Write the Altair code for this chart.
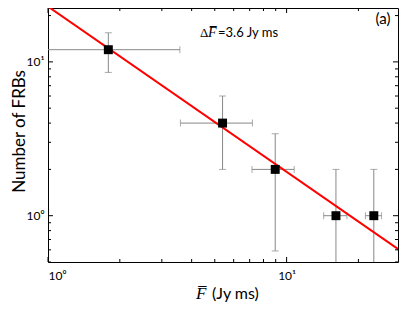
import altair as alt
import pandas as pd

# ---- data ----
flux = [1.79, 5.39, 8.96, 16.1, 23.2]
count = [12, 4, 2, 1, 1]
flux_lo = [0.01, 3.59, 7.16, 14.3, 21.4]
flux_hi = [3.57, 7.19, 10.76, 17.9, 25.0]
count_lo = [8.54, 2.0, 0.59, 0.001, 0.001]
count_hi = [15.46, 6.0, 3.41, 2.0, 2.0]

fit_flux = [1.0, 31.62]
fit_count = [22.9, 0.56]

x_major = [1, 10]
x_minor = [2, 3, 4, 5, 6, 7, 8, 9, 20]
y_major = [1, 10]
y_minor = [0.5, 0.6, 0.7, 0.8, 0.9, 2, 3, 4, 5, 6, 7, 8, 9, 20]

W, H = 350, 254
FONT = "Lato"
GRAY = "#888888"

xs = alt.Scale(type="log", domain=[1, 29.3], nice=False)
ys = alt.Scale(type="log", domain=[0.5, 22.4], nice=False)

lab_expr = "datum.value == 1 ? '10\u2070' : (datum.value == 10 ? '10\u00b9' : '')"

xax = alt.Axis(values=x_major, labelExpr=lab_expr, ticks=False, domain=False,
               grid=False, labelFont=FONT, labelFontSize=12, labelPadding=8,
               labelColor="black", title=None)
yax = alt.Axis(values=y_major, labelExpr=lab_expr, ticks=False, domain=False,
               grid=False, labelFont=FONT, labelFontSize=12, labelPadding=4,
               labelColor="black", title="Number of FRBs", titleFont=FONT,
               titleFontSize=17, titleFontWeight="normal", titleX=-20, titleY=123,
               titleAngle=270, titleBaseline="bottom", titleAlign="center",
               titleColor="black")


def X(f):
    return alt.X(f, scale=xs, axis=xax)


def Y(f):
    return alt.Y(f, scale=ys, axis=yax)


pts = pd.DataFrame({"f": flux, "n": count, "flo": flux_lo, "fhi": flux_hi,
                    "nlo": count_lo, "nhi": count_hi})
fit = pd.DataFrame({"f": fit_flux, "n": fit_count})

base = alt.Chart(pts)

vbar = base.mark_rule(color=GRAY, strokeWidth=1, clip=True).encode(
    x=X("f:Q"), y=Y("nlo:Q"), y2="nhi:Q")
hbar = base.mark_rule(color=GRAY, strokeWidth=1, clip=True).encode(
    x=X("flo:Q"), x2="fhi:Q", y=Y("n:Q"))
cap_top = base.mark_tick(color=GRAY, orient="horizontal", size=7, thickness=1, clip=True).encode(
    x=X("f:Q"), y=Y("nhi:Q"))
cap_bot = base.mark_tick(color=GRAY, orient="horizontal", size=7, thickness=1, clip=True).encode(
    x=X("f:Q"), y=Y("nlo:Q"))
cap_l = base.mark_tick(color=GRAY, orient="vertical", size=7, thickness=1, clip=True).encode(
    x=X("flo:Q"), y=Y("n:Q"))
cap_r = base.mark_tick(color=GRAY, orient="vertical", size=7, thickness=1, clip=True).encode(
    x=X("fhi:Q"), y=Y("n:Q"))

line = alt.Chart(fit).mark_line(color="#ff0000", strokeWidth=2, clip=True).encode(
    x=X("f:Q"), y=Y("n:Q"))

squares = base.mark_square(color="black", size=80, opacity=1).encode(
    x=X("f:Q"), y=Y("n:Q"))


def xticks(vals, length):
    d = alt.Chart(pd.DataFrame({"v": vals}))
    b = d.mark_rule(color="black", strokeWidth=1).encode(
        x=X("v:Q"), y=alt.value(H), y2=alt.value(H - length))
    t = d.mark_rule(color="black", strokeWidth=1).encode(
        x=X("v:Q"), y=alt.value(0), y2=alt.value(length))
    return [b, t]


def yticks(vals, length):
    d = alt.Chart(pd.DataFrame({"v": vals}))
    l = d.mark_rule(color="black", strokeWidth=1).encode(
        y=Y("v:Q"), x=alt.value(0), x2=alt.value(length))
    r = d.mark_rule(color="black", strokeWidth=1).encode(
        y=Y("v:Q"), x=alt.value(W), x2=alt.value(W - length))
    return [l, r]


ticks = xticks(x_major, 5) + xticks(x_minor, 3) + yticks(y_major, 5) + yticks(y_minor, 3)


def txt(s, x, y, size, font=FONT, style="normal", align="left", baseline="alphabetic"):
    return alt.Chart(pd.DataFrame({"t": [s]})).mark_text(
        font=font, fontSize=size, fontStyle=style, align=align, baseline=baseline,
        color="black").encode(text="t:N", x=alt.value(x), y=alt.value(y))


labels = [
    txt("(a)", 335, 11, 15, baseline="middle", align="center"),
    txt("\u0394", 152, 29, 13, font="Liberation Serif"),
    txt("F\u0305", 160, 29, 14, font="Liberation Serif", style="italic"),
    txt("=3.6 Jy ms", 170, 29, 13),
    txt("F\u0305", 148, 291, 17, font="Liberation Serif", style="italic"),
    txt("(Jy ms)", 164, 291, 16),
]

chart = alt.layer(vbar, hbar, cap_top, cap_bot, cap_l, cap_r, line, squares,
                  *ticks, *labels).properties(
    width=W, height=H,
    autosize=alt.AutoSizeParams(type="none"),
    padding={"left": 40, "top": 0, "right": 1, "bottom": 42},
).configure_view(stroke="black", strokeWidth=1)

chart.save("out.html", embed_options={"renderer": "svg", "actions": False})
